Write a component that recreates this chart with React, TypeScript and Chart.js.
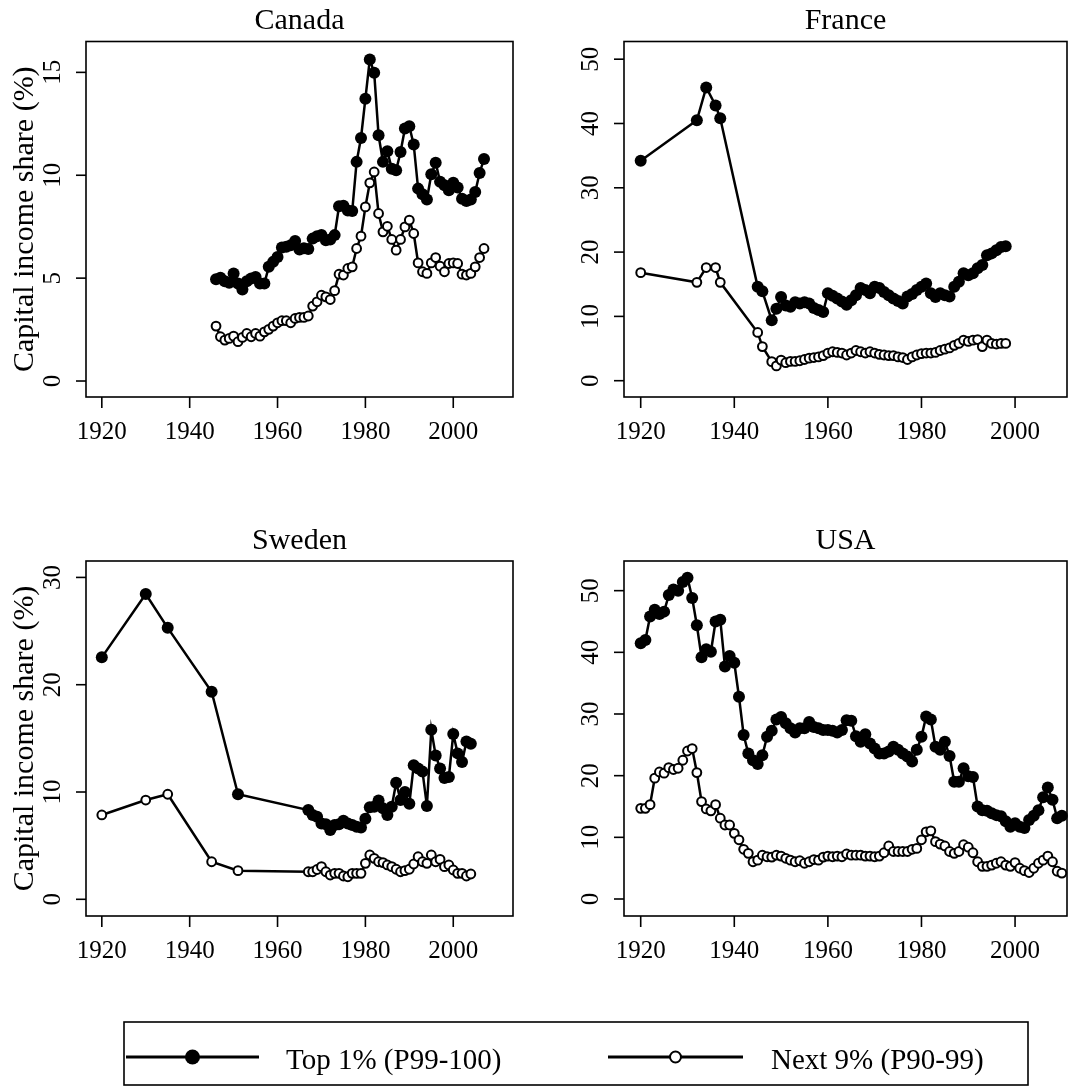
import React, { useEffect, useRef } from 'react';
import { Chart, registerables } from 'chart.js';

Chart.register(...registerables);

const W = 1074;
const H = 1088;
const FONT = '"Liberation Serif", "Times New Roman", Times, serif';

// ---------------- DATA ----------------
const canadaYears = [
  1946, 1947, 1948, 1949, 1950, 1951, 1952, 1953, 1954, 1955,
  1956, 1957, 1958, 1959, 1960, 1961, 1962, 1963, 1964, 1965,
  1966, 1967, 1968, 1969, 1970, 1971, 1972, 1973, 1974, 1975,
  1976, 1977, 1978, 1979, 1980, 1981, 1982, 1983, 1984, 1985,
  1986, 1987, 1988, 1989, 1990, 1991, 1992, 1993, 1994, 1995,
  1996, 1997, 1998, 1999, 2000, 2001, 2002, 2003, 2004, 2005,
  2006, 2007,
];
const canadaTop1 = [
  4.94, 5.02, 4.85, 4.77, 5.23, 4.74, 4.45, 4.85, 4.98, 5.05,
  4.74, 4.74, 5.55, 5.79, 6.03, 6.49, 6.52, 6.6, 6.81, 6.39,
  6.45, 6.42, 6.92, 7.04, 7.1, 6.84, 6.88, 7.09, 8.49, 8.52,
  8.29, 8.26, 10.65, 11.81, 13.72, 15.63, 14.98, 11.94, 10.65, 11.17,
  10.32, 10.24, 11.13, 12.27, 12.38, 11.49, 9.35, 9.08, 8.82, 10.05,
  10.61, 9.68, 9.51, 9.27, 9.64, 9.4, 8.86, 8.75, 8.82, 9.19,
  10.11, 10.79,
];
const canadaNext9 = [
  2.67, 2.15, 1.99, 2.07, 2.18, 1.91, 2.12, 2.31, 2.15, 2.31,
  2.18, 2.39, 2.51, 2.67, 2.83, 2.93, 2.93, 2.83, 3.04, 3.09,
  3.09, 3.16, 3.64, 3.85, 4.17, 4.09, 3.96, 4.39, 5.19, 5.15,
  5.47, 5.55, 6.44, 7.04, 8.46, 9.63, 10.16, 8.14, 7.25, 7.52,
  6.88, 6.36, 6.88, 7.49, 7.82, 7.17, 5.74, 5.31, 5.23, 5.74,
  6.0, 5.58, 5.31, 5.71, 5.74, 5.71, 5.19, 5.15, 5.23, 5.55,
  6.0, 6.44,
];

const franceYears = [
  1920, 1932, 1934, 1936, 1937, 1945, 1946, 1948, 1949, 1950,
  1951, 1952, 1953, 1954, 1955, 1956, 1957, 1958, 1959, 1960,
  1961, 1962, 1963, 1964, 1965, 1966, 1967, 1968, 1969, 1970,
  1971, 1972, 1973, 1974, 1975, 1976, 1977, 1978, 1979, 1980,
  1981, 1982, 1983, 1984, 1985, 1986, 1987, 1988, 1989, 1990,
  1991, 1992, 1993, 1994, 1995, 1996, 1997, 1998,
];
const franceTop1 = [
  34.2, 40.5, 45.6, 42.8, 40.8, 14.6, 13.9, 9.4, 11.2, 13.0,
  11.7, 11.5, 12.2, 12.0, 12.2, 12.0, 11.3, 11.0, 10.7, 13.6,
  13.2, 12.8, 12.3, 11.8, 12.5, 13.3, 14.4, 14.1, 13.6, 14.6,
  14.4, 13.8, 13.3, 12.8, 12.4, 12.0, 13.1, 13.5, 14.1, 14.6,
  15.1, 13.6, 13.0, 13.6, 13.3, 13.1, 14.6, 15.4, 16.7, 16.4,
  16.7, 17.5, 18.0, 19.5, 19.8, 20.3, 20.8, 20.9,
];
const franceNext9 = [
  16.8, 15.3, 17.6, 17.6, 15.3, 7.5, 5.3, 2.96, 2.3, 3.2,
  2.8, 3.0, 3.0, 3.1, 3.3, 3.5, 3.6, 3.7, 3.9, 4.3,
  4.5, 4.4, 4.3, 4.0, 4.3, 4.7, 4.5, 4.3, 4.5, 4.3,
  4.1, 4.0, 3.9, 3.9, 3.7, 3.6, 3.3, 3.7, 4.0, 4.2,
  4.3, 4.3, 4.4, 4.7, 4.9, 5.1, 5.5, 5.8, 6.3, 6.1,
  6.3, 6.4, 5.3, 6.3, 5.8, 5.7, 5.8, 5.8,
];

const swedenYears = [
  1920, 1930, 1935, 1945, 1951, 1967, 1968, 1969, 1970, 1971,
  1972, 1973, 1974, 1975, 1976, 1977, 1978, 1979, 1980, 1981,
  1982, 1983, 1984, 1985, 1986, 1987, 1988, 1989, 1990, 1991,
  1992, 1993, 1994, 1995, 1996, 1997, 1998, 1999, 2000, 2001,
  2002, 2003, 2004,
];
const swedenTop1 = [
  22.55, 28.45, 25.3, 19.35, 9.79, 8.32, 7.85, 7.7, 7.07, 7.0,
  6.46, 6.93, 7.0, 7.33, 7.07, 6.93, 6.77, 6.7, 7.5, 8.57,
  8.63, 9.2, 8.48, 7.85, 8.63, 10.87, 9.25, 10.0, 8.9, 12.5,
  12.2, 11.9, 8.7, 15.8, 13.4, 12.2, 11.3, 11.4, 15.4, 13.6,
  12.8, 14.7, 14.5,
];
const swedenNext9 = [
  7.86, 9.25, 9.79, 3.5, 2.67, 2.57, 2.57, 2.78, 3.04, 2.57,
  2.26, 2.42, 2.42, 2.17, 2.1, 2.42, 2.42, 2.42, 3.35, 4.13,
  3.82, 3.5, 3.42, 3.2, 3.04, 2.8, 2.57, 2.67, 2.8, 3.29,
  3.97, 3.5, 3.35, 4.13, 3.5, 3.72, 3.04, 3.2, 2.73, 2.42,
  2.42, 2.17, 2.36,
];

const usaYears = [
  1920, 1921, 1922, 1923, 1924, 1925, 1926, 1927, 1928, 1929,
  1930, 1931, 1932, 1933, 1934, 1935, 1936, 1937, 1938, 1939,
  1940, 1941, 1942, 1943, 1944, 1945, 1946, 1947, 1948, 1949,
  1950, 1951, 1952, 1953, 1954, 1955, 1956, 1957, 1958, 1959,
  1960, 1961, 1962, 1963, 1964, 1965, 1966, 1967, 1968, 1969,
  1970, 1971, 1972, 1973, 1974, 1975, 1976, 1977, 1978, 1979,
  1980, 1981, 1982, 1983, 1984, 1985, 1986, 1987, 1988, 1989,
  1990, 1991, 1992, 1993, 1994, 1995, 1996, 1997, 1998, 1999,
  2000, 2001, 2002, 2003, 2004, 2005, 2006, 2007, 2008, 2009,
  2010,
];
const usaTop1 = [
  41.46, 42.0, 45.8, 46.9, 46.2, 46.6, 49.3, 50.2, 50.0, 51.4,
  52.1, 48.8, 44.4, 39.2, 40.5, 40.1, 45.0, 45.3, 37.7, 39.4,
  38.3, 32.8, 26.6, 23.6, 22.5, 21.9, 23.3, 26.3, 27.3, 29.1,
  29.5, 28.5, 27.7, 27.0, 27.7, 27.7, 28.7, 27.9, 27.7, 27.4,
  27.4, 27.3, 27.0, 27.4, 29.0, 28.9, 26.4, 25.5, 26.7, 25.2,
  24.4, 23.6, 23.6, 23.9, 24.7, 24.2, 23.6, 23.1, 22.3, 24.2,
  26.3, 29.6, 29.1, 24.7, 24.2, 25.5, 23.2, 19.0, 19.0, 21.2,
  19.9, 19.8, 15.0, 14.4, 14.3, 13.9, 13.6, 13.4, 12.6, 11.7,
  12.3, 11.7, 11.5, 12.8, 13.5, 14.4, 16.5, 18.1, 16.1, 13.1,
  13.5,
];
const usaNext9 = [
  14.7, 14.7, 15.3, 19.6, 20.6, 20.4, 21.3, 21.0, 21.2, 22.5,
  24.0, 24.4, 20.5, 15.8, 14.6, 14.3, 15.3, 13.1, 12.0, 12.0,
  10.65, 9.6, 8.06, 7.4, 6.04, 6.3, 7.1, 6.85, 6.8, 7.1,
  6.96, 6.6, 6.3, 6.04, 6.2, 5.8, 6.04, 6.4, 6.3, 6.8,
  6.96, 6.85, 6.96, 6.85, 7.3, 7.1, 7.1, 7.1, 6.96, 6.96,
  6.85, 6.96, 7.5, 8.6, 7.7, 7.7, 7.7, 7.7, 8.06, 8.2,
  9.6, 10.9, 11.05, 9.3, 8.9, 8.6, 7.7, 7.4, 7.7, 8.8,
  8.4, 7.5, 6.04, 5.3, 5.3, 5.5, 5.8, 6.04, 5.5, 5.3,
  5.9, 4.99, 4.6, 4.3, 4.99, 5.8, 6.3, 6.96, 6.04, 4.5,
  4.2,
];

const xTicks = [1920, 1940, 1960, 1980, 2000];
const canadaYTicks = [0, 5, 10, 15];
const franceYTicks = [0, 10, 20, 30, 40, 50];
const swedenYTicks = [0, 10, 20, 30];
const usaYTicks = [0, 10, 20, 30, 40, 50];

const seriesLabels = ['Top 1% (P99-100)', 'Next 9% (P90-99)'];
const yAxisTitle = 'Capital income share (%)';

// ---------------- LAYOUT ----------------
type Box = { l: number; t: number; r: number; b: number };
type Panel = {
  title: string;
  years: number[];
  top1: number[];
  next9: number[];
  box: Box;
  xMin: number;
  xMax: number;
  yMin: number;
  yMax: number;
  yTicks: number[];
  yTitle: boolean;
  legend: boolean;
};

const panels: Panel[] = [
  {
    title: 'Canada', years: canadaYears, top1: canadaTop1, next9: canadaNext9,
    box: { l: 86, t: 41.5, r: 513, b: 397 },
    xMin: 1916.4, xMax: 2013.6, yMin: -0.777, yMax: 16.5,
    yTicks: canadaYTicks, yTitle: true, legend: false,
  },
  {
    title: 'France', years: franceYears, top1: franceTop1, next9: franceNext9,
    box: { l: 624, t: 41.5, r: 1067, b: 397 },
    xMin: 1916.43, xMax: 2011.1, yMin: -2.535, yMax: 52.75,
    yTicks: franceYTicks, yTitle: false, legend: false,
  },
  {
    title: 'Sweden', years: swedenYears, top1: swedenTop1, next9: swedenNext9,
    box: { l: 86, t: 561, r: 513, b: 916 },
    xMin: 1916.4, xMax: 2013.6, yMin: -1.556, yMax: 31.53,
    yTicks: swedenYTicks, yTitle: true, legend: false,
  },
  {
    title: 'USA', years: usaYears, top1: usaTop1, next9: usaNext9,
    box: { l: 624, t: 561, r: 1067, b: 916 },
    xMin: 1916.43, xMax: 2011.1, yMin: -2.757, yMax: 54.81,
    yTicks: usaYTicks, yTitle: false, legend: true,
  },
];

const LINE_W = 2.5;
const FILLED_R = 6;
const OPEN_R = 4.4;
const OPEN_BW = 2;

const legendBox = { l: 124, t: 1022, r: 1028, b: 1085 };
const legendEntries = [
  { segL: 126, segR: 259, textX: 286, filled: true },
  { segL: 608, segR: 743, textX: 771, filled: false },
];

function drawMarker(ctx: CanvasRenderingContext2D, x: number, y: number, filled: boolean, scale = 1) {
  ctx.beginPath();
  if (filled) {
    ctx.arc(x, y, FILLED_R * scale, 0, Math.PI * 2);
    ctx.fillStyle = '#000';
    ctx.fill();
  } else {
    ctx.arc(x, y, OPEN_R * scale, 0, Math.PI * 2);
    ctx.fillStyle = '#fff';
    ctx.fill();
    ctx.lineWidth = OPEN_BW;
    ctx.strokeStyle = '#000';
    ctx.stroke();
  }
}

function makeDecorPlugin(panel: Panel) {
  return {
    id: 'rDecor',
    afterDraw(chart: any) {
      const ctx: CanvasRenderingContext2D = chart.ctx;
      const ca = chart.chartArea;
      const xs = chart.scales.x;
      const ys = chart.scales.y;
      ctx.save();
      ctx.strokeStyle = '#000';
      ctx.fillStyle = '#000';
      ctx.lineWidth = 1.6;
      // box
      ctx.strokeRect(ca.left, ca.top, ca.right - ca.left, ca.bottom - ca.top);
      // x ticks
      ctx.font = `25px ${FONT}`;
      ctx.textAlign = 'center';
      ctx.textBaseline = 'alphabetic';
      for (const v of xTicks) {
        const px = xs.getPixelForValue(v);
        ctx.beginPath();
        ctx.moveTo(px, ca.bottom);
        ctx.lineTo(px, ca.bottom + 11);
        ctx.stroke();
        ctx.fillText(String(v), px, ca.bottom + 42);
      }
      // y ticks
      for (const v of panel.yTicks) {
        const py = ys.getPixelForValue(v);
        ctx.beginPath();
        ctx.moveTo(ca.left - 10, py);
        ctx.lineTo(ca.left, py);
        ctx.stroke();
        ctx.save();
        ctx.translate(ca.left - 26, py);
        ctx.rotate(-Math.PI / 2);
        ctx.fillText(String(v), 0, 0);
        ctx.restore();
      }
      // title
      ctx.font = `30px ${FONT}`;
      ctx.fillText(panel.title, (ca.left + ca.right) / 2, ca.top - 12.5);
      // y axis title
      if (panel.yTitle) {
        ctx.save();
        ctx.translate(33, (ca.top + ca.bottom) / 2);
        ctx.rotate(-Math.PI / 2);
        ctx.fillText(yAxisTitle, 0, 0);
        ctx.restore();
      }
      // legend
      if (panel.legend) {
        const lb = legendBox;
        ctx.lineWidth = 1.6;
        ctx.strokeRect(lb.l, lb.t, lb.r - lb.l, lb.b - lb.t);
        const ly = 1057;
        ctx.font = `29px ${FONT}`;
        ctx.textAlign = 'left';
        legendEntries.forEach((e, i) => {
          ctx.beginPath();
          ctx.lineWidth = 2.8;
          ctx.strokeStyle = '#000';
          ctx.moveTo(e.segL, ly);
          ctx.lineTo(e.segR, ly);
          ctx.stroke();
          drawMarker(ctx, (e.segL + e.segR) / 2, ly, e.filled, 1.25);
          ctx.fillStyle = '#000';
          ctx.fillText(seriesLabels[i], e.textX, ly + 12);
        });
      }
      ctx.restore();
    },
  };
}

function PanelChart({ panel }: { panel: Panel }) {
  const ref = useRef<HTMLCanvasElement | null>(null);
  useEffect(() => {
    if (!ref.current) return;
    const toPts = (vals: number[]) => panel.years.map((yr, i) => ({ x: yr, y: vals[i] }));
    const chart = new Chart(ref.current, {
      type: 'line',
      data: {
        datasets: [
          {
            label: seriesLabels[0],
            data: toPts(panel.top1),
            borderColor: '#000',
            borderWidth: LINE_W,
            pointRadius: FILLED_R,
            pointBackgroundColor: '#000',
            pointBorderColor: '#000',
            pointBorderWidth: 0,
            tension: 0,
            fill: false,
            clip: false,
          } as any,
          {
            label: seriesLabels[1],
            data: toPts(panel.next9),
            borderColor: '#000',
            borderWidth: LINE_W,
            pointRadius: OPEN_R,
            pointBackgroundColor: '#fff',
            pointBorderColor: '#000',
            pointBorderWidth: OPEN_BW,
            tension: 0,
            fill: false,
            clip: false,
          } as any,
        ],
      },
      options: {
        responsive: false,
        animation: false,
        devicePixelRatio: 1,
        events: [],
        layout: {
          padding: {
            left: panel.box.l,
            top: panel.box.t,
            right: W - panel.box.r,
            bottom: H - panel.box.b,
          },
        },
        scales: {
          x: { type: 'linear', min: panel.xMin, max: panel.xMax, display: false },
          y: { type: 'linear', min: panel.yMin, max: panel.yMax, display: false },
        },
        plugins: {
          legend: { display: false },
          tooltip: { enabled: false },
          title: { display: false },
        },
      },
      plugins: [makeDecorPlugin(panel)],
    });
    return () => chart.destroy();
  }, [panel]);
  return (
    <canvas
      ref={ref}
      width={W}
      height={H}
      style={{ position: 'absolute', left: 0, top: 0, width: W, height: H }}
    />
  );
}

export default function App() {
  return (
    <div style={{ position: 'absolute', left: 0, top: 0, width: W, height: H, background: '#fff', overflow: 'hidden' }}>
      {panels.map((p) => (
        <PanelChart key={p.title} panel={p} />
      ))}
    </div>
  );
}
